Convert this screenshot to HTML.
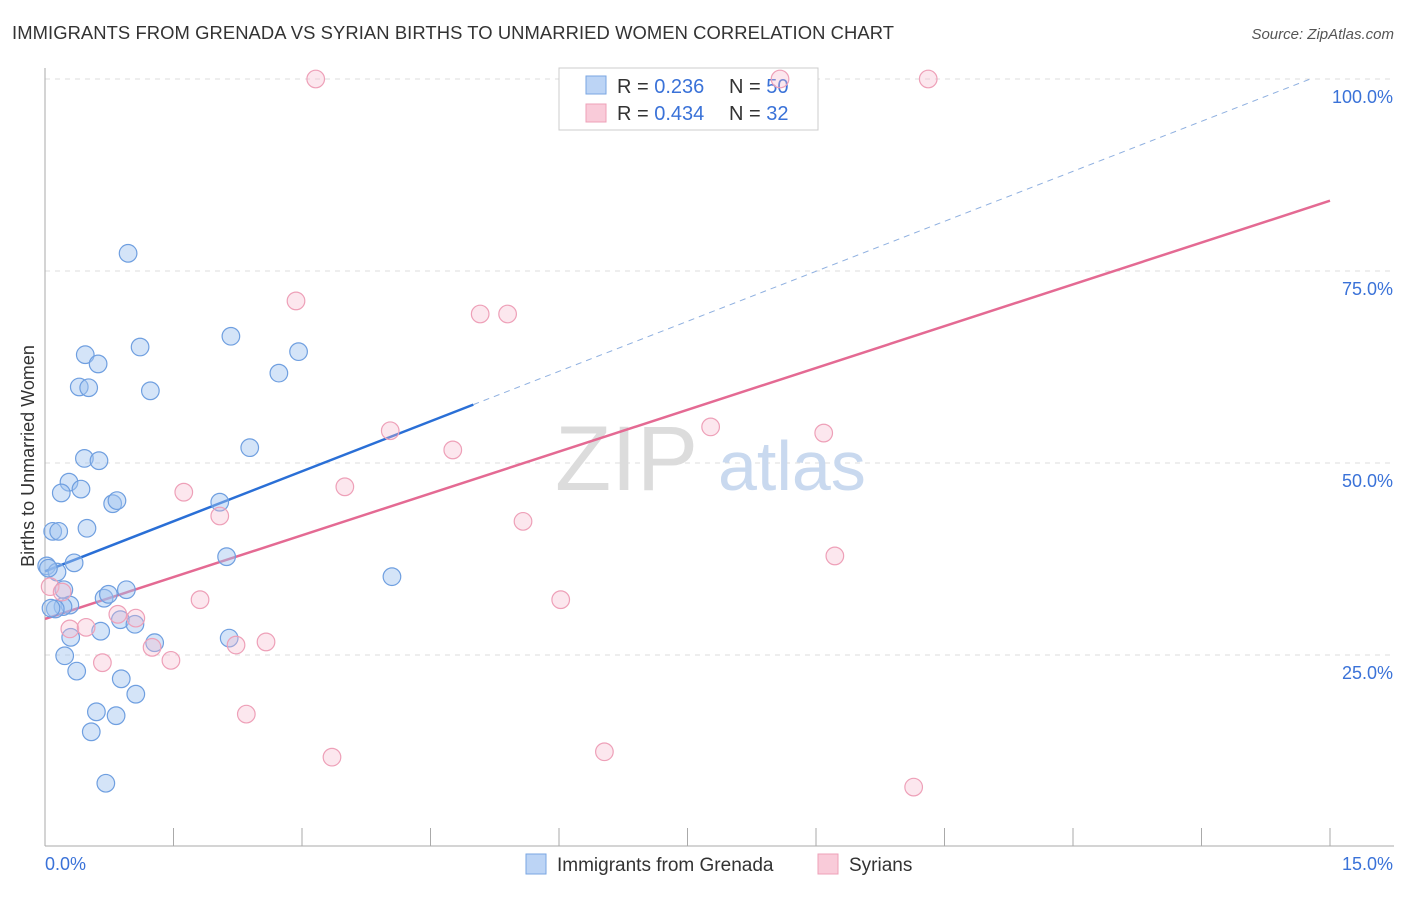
<!DOCTYPE html>
<html><head><meta charset="utf-8"><style>
body{margin:0;background:#fff;font-family:"Liberation Sans",sans-serif}
svg text{font-family:"Liberation Sans",sans-serif}
</style></head><body>
<svg id="c" width="1406" height="892" viewBox="0 0 1406 892">
<text x="12" y="39" font-size="18.4" fill="#333" textLength="882">IMMIGRANTS FROM GRENADA VS SYRIAN BIRTHS TO UNMARRIED WOMEN CORRELATION CHART</text>
<text x="1394" y="39" font-size="15" fill="#555" font-style="italic" text-anchor="end">Source: ZipAtlas.com</text>
<g id="grid"></g>
<g><text x="555" y="490" font-size="92" font-family="Liberation Serif,serif" fill="#dcdcdc">ZIP</text><text x="718" y="490" font-size="70" fill="#c9d9ef">atlas</text></g>
<text transform="translate(34,456) rotate(-90)" font-size="18" fill="#333" text-anchor="middle">Births to Unmarried Women</text>
<g>
<rect x="559" y="68" width="259" height="62" fill="#fff" stroke="#ccc"/>
<rect x="586" y="76" width="20" height="18" fill="#bcd4f5" stroke="#7aa6e2"/>
<rect x="586" y="104" width="20" height="18" fill="#f9cbd9" stroke="#eea0b8"/>
<text x="617" y="93" font-size="20" fill="#333">R = <tspan fill="#3a72d8">0.236</tspan><tspan x="729">N = </tspan><tspan fill="#3a72d8">50</tspan></text>
<text x="617" y="120" font-size="20" fill="#333">R = <tspan fill="#3a72d8">0.434</tspan><tspan x="729">N = </tspan><tspan fill="#3a72d8"> 32</tspan></text>
</g>
<g id="lines"></g>
<g id="pts"></g>
<g>
<rect x="526" y="854" width="20" height="20" fill="#bcd4f5" stroke="#7aa6e2"/>
<text x="557" y="871" font-size="19" fill="#333">Immigrants from Grenada</text>
<rect x="818" y="854" width="20" height="20" fill="#f9cbd9" stroke="#eea0b8"/>
<text x="849" y="871" font-size="19" fill="#333">Syrians</text>
</g>
</svg>
<script>
const blueX=[0.97,0.47,0.62,1.11,0.40,0.51,1.23,2.17,2.96,2.73,2.39,0.46,0.63,0.28,0.19,0.42,0.79,0.84,2.04,0.09,0.16,0.49,0.02,0.14,0.34,0.04,0.22,0.29,0.21,0.12,0.69,0.74,0.95,0.88,1.05,1.28,0.30,0.65,2.12,4.05,2.15,0.23,0.37,0.89,1.06,0.60,0.83,0.54,0.71,0.07];
const blueY=[77.3,64.1,62.9,65.1,59.9,59.8,59.4,66.5,64.5,61.7,52.0,50.6,50.3,47.5,46.1,46.6,44.7,45.1,44.9,41.1,41.1,41.5,36.6,35.8,37.0,36.3,33.5,31.5,31.3,31.0,32.4,32.9,33.5,29.6,29.0,26.6,27.3,28.1,37.8,35.2,27.2,24.9,22.9,21.9,19.9,17.6,17.1,15.0,8.3,31.1];
const pinkX=[3.16,8.58,10.31,2.93,5.08,5.40,4.03,7.77,9.09,4.76,3.50,1.62,2.04,5.58,9.22,1.81,6.02,0.85,1.06,0.29,0.48,1.25,1.47,2.23,2.58,0.67,2.35,3.35,6.53,10.14,0.06,0.20];
const pinkY=[100,100,100,71.1,69.4,69.4,54.2,54.7,53.9,51.7,46.9,46.2,43.1,42.4,37.9,32.2,32.2,30.3,29.8,28.4,28.6,26.0,24.3,26.3,26.7,24.0,17.3,11.7,12.4,7.8,33.9,33.2];
const blueTrend=[35.9,4.34];
const pinkTrend=[29.7,3.63];
const yTicks=[25,50,75,100];
const xTickVals=[0,1.5,3,4.5,6,7.5,9,10.5,12,13.5,15];
const NS="http://www.w3.org/2000/svg";
const sx=v=>45+v/15*1285, sy=v=>847-v*7.68;
function mk(t,a,p){const e=document.createElementNS(NS,t);for(const k in a)e.setAttribute(k,a[k]);p.appendChild(e);return e;}
const g=document.getElementById('grid');
yTicks.forEach(v=>{
 const l=mk('line',{x1:45,x2:1394,y1:sy(v),y2:sy(v),stroke:'#ddd','stroke-dasharray':'5,5'},g);
 
 
 const t=mk('text',{x:1393,y:sy(v)+24,'font-size':18,fill:'#3a72d8','text-anchor':'end'},g);
 t.textContent=v.toFixed(1)+'%';
 
 
});
mk('line',{x1:45,x2:45,y1:68,y2:846,stroke:'#aaa'},g);
mk('line',{x1:45,x2:1394,y1:846,y2:846,stroke:'#aaa'},g);
xTickVals.forEach(v=>{const l=mk('line',{x1:sx(v),x2:sx(v),y1:828,y2:846,stroke:'#aaa'},g);
 
 });
const t0=mk('text',{x:45,y:870,'font-size':18,fill:'#3a72d8'},g);t0.textContent='0.0%';


const t1=mk('text',{x:1393,y:870,'font-size':18,fill:'#3a72d8','text-anchor':'end'},g);t1.textContent='15.0%';


const pg=document.getElementById('pts');
blueX.forEach((x,i)=>{const c=mk('circle',{cx:sx(x),cy:sy(blueY[i]),r:8.8,fill:'rgba(160,196,240,0.45)',stroke:'#6f9fe0','stroke-width':1.2},pg);
 
 });
pinkX.forEach((x,i)=>{const c=mk('circle',{cx:sx(x),cy:sy(pinkY[i]),r:8.8,fill:'rgba(247,185,205,0.35)',stroke:'#eea0b8','stroke-width':1.2},pg);
 
 });
const lg=document.getElementById('lines');
const f=(tr,x)=>tr[0]+tr[1]*x;
const bl=mk('line',{x1:sx(0),y1:sy(f(blueTrend,0)),x2:sx(5),y2:sy(f(blueTrend,5)),stroke:'#2a6fd6','stroke-width':2.5},lg);


const bd=mk('line',{x1:sx(5),y1:sy(f(blueTrend,5)),x2:sx(14.8),y2:sy(f(blueTrend,14.8)),stroke:'#8fb0e0','stroke-width':1,'stroke-dasharray':'6,5'},lg);


const pl=mk('line',{x1:sx(0),y1:sy(f(pinkTrend,0)),x2:sx(15),y2:sy(f(pinkTrend,15)),stroke:'#e46a93','stroke-width':2.5},lg);


</script>
</body></html>
